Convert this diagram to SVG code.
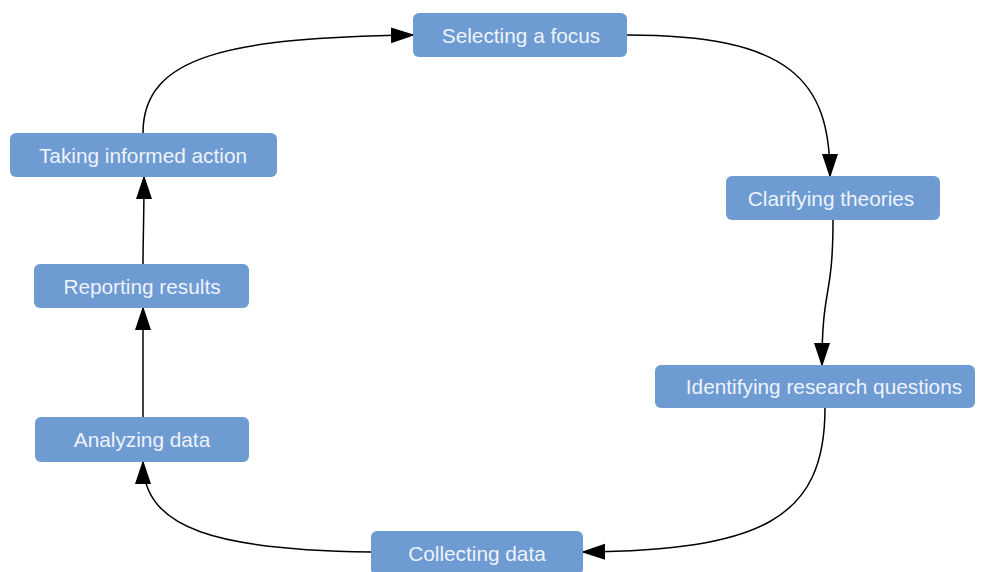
<svg xmlns="http://www.w3.org/2000/svg" width="984" height="572" viewBox="0 0 984 572">
<defs>
<style>
.node rect{fill:#6d9bd2;}
.node text{fill:#eef3fb;font-family:"Liberation Sans",Arial,sans-serif;font-size:20.8px;text-anchor:middle;dominant-baseline:central;}
.edges path{fill:none;stroke:#000;stroke-width:1.5;}
</style>
<marker id="ah" markerUnits="userSpaceOnUse" markerWidth="24" markerHeight="18" refX="22" refY="8" orient="auto" viewBox="0 0 24 16">
<path d="M0,0 L24,8 L0,16 Z" fill="#000"/>
</marker>
</defs>
<rect width="984" height="572" fill="#fff"/>
<g class="edges">
<path d="M143,133 C143,55 230,38 413,35" marker-end="url(#ah)"/>
<path d="M627,35 C790,35 830,80 830,176" marker-end="url(#ah)"/>
<path d="M833,220 C833,300 822,285 822,365" marker-end="url(#ah)"/>
<path d="M825,408 C825,520 760,550 583,552" marker-end="url(#ah)"/>
<path d="M371,552 C220,550 143,530 143,462" marker-end="url(#ah)"/>
<path d="M143,417 L143,308" marker-end="url(#ah)"/>
<path d="M143,264 C143,240 144,220 144,177" marker-end="url(#ah)"/>
</g>
<g id="n-select" class="node"><rect x="413" y="13" width="214" height="44" rx="6"/><text x="521" y="35">Selecting a focus</text></g>
<g id="n-clarify" class="node"><rect x="726" y="176" width="214" height="44" rx="6"/><text x="831" y="198">Clarifying theories</text></g>
<g id="n-identify" class="node"><rect x="655" y="365" width="320" height="43" rx="6"/><text x="824" y="386">Identifying research questions</text></g>
<g id="n-collect" class="node"><rect x="371" y="531" width="212" height="44" rx="6"/><text x="477" y="553">Collecting data</text></g>
<g id="n-analyze" class="node"><rect x="35" y="417" width="214" height="45" rx="6"/><text x="142" y="439">Analyzing data</text></g>
<g id="n-report" class="node"><rect x="34" y="264" width="215" height="44" rx="6"/><text x="142" y="286">Reporting results</text></g>
<g id="n-action" class="node"><rect x="10" y="133" width="267" height="44" rx="6"/><text x="143" y="155">Taking informed action</text></g>
</svg>
